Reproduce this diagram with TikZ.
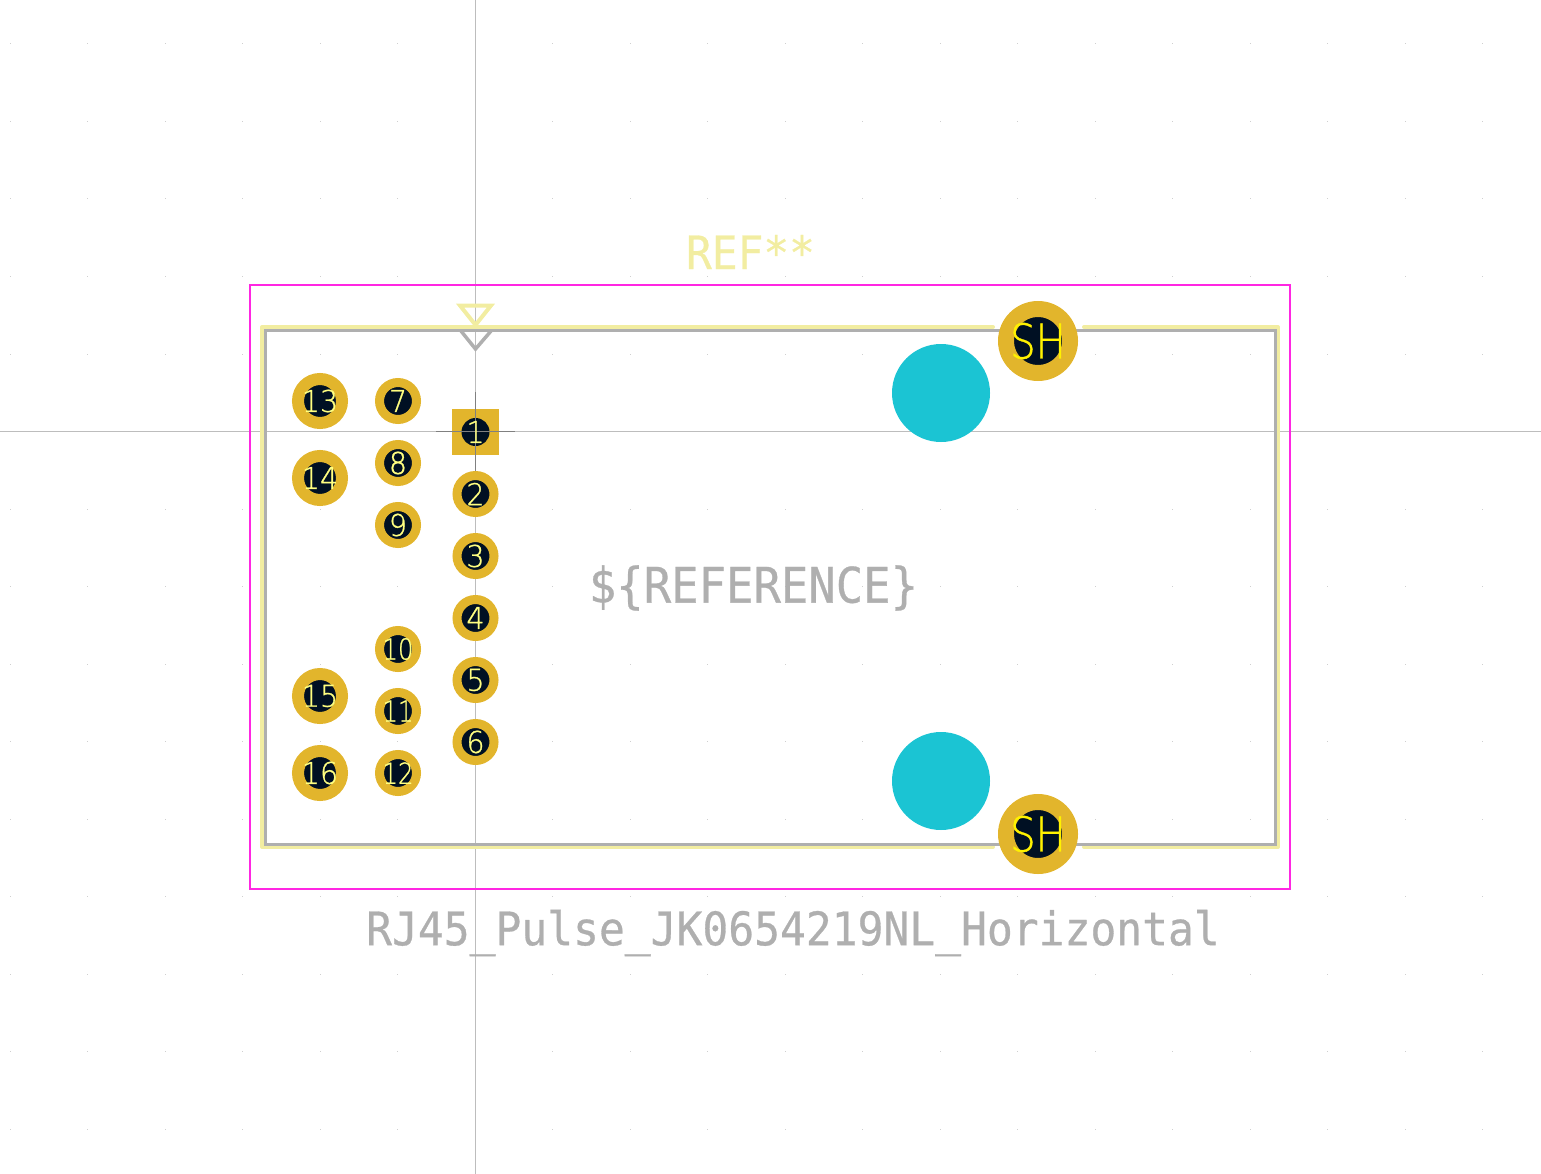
\documentclass[tikz,border=0pt]{standalone}
\usepackage{fontspec}
\newfontfamily\kifont[FakeStretch=0.93,FakeBold=0.6]{DejaVu Sans Mono}
\newfontfamily\pinfont[FakeStretch=0.95,FakeBold=0.8]{DejaVu Sans ExtraLight}
\newfontfamily\shfont[FakeStretch=0.84,FakeBold=0.8]{DejaVu Sans ExtraLight}
\newcommand{\pinlab}[1]{\makebox[0pt]{#1}}
\definecolor{padgold}{HTML}{E2B52C}
\definecolor{padhole}{HTML}{001023}
\definecolor{silkyel}{HTML}{F2EDA1}
\definecolor{fabgray}{HTML}{AFAFAF}
\definecolor{crtmag}{HTML}{FF26E2}
\definecolor{npthcyan}{HTML}{1BC4D3}
\definecolor{axisgray}{HTML}{BDBDBD}
\definecolor{griddot}{HTML}{CFCFCF}
\definecolor{numyel}{HTML}{FFFF80}
\tikzset{
  padsm/.style={circle,draw=padgold,fill=padhole,line width=9pt,minimum size=37pt,inner sep=0pt,
    text=numyel,font=\pinfont\fontsize{30}{30}\selectfont},
  padtw/.style={padsm,font=\shfont\fontsize{29}{29}\selectfont},
  padlg/.style={padsm,line width=12pt,minimum size=44pt},
  padsh/.style={padsm,line width=16pt,minimum size=64pt,text=yellow,font=\shfont\fontsize{48}{48}\selectfont},
  padsq/.style={rectangle,fill=padgold,minimum size=46.5pt,inner sep=0pt},
  padhl/.style={circle,fill=padhole,minimum size=28pt,inner sep=0pt},
  npth/.style={circle,fill=npthcyan,minimum size=98pt,inner sep=0pt},
  silktxt/.style={text=silkyel,inner sep=0pt,font=\kifont\fontsize{46}{46}\selectfont},
  fabtxt/.style={text=fabgray,inner sep=0pt,font=\kifont\fontsize{#1}{#1}\selectfont},
}
\begin{document}
\begin{tikzpicture}[x=1pt,y=-1pt,line cap=round]
    \useasboundingbox (0,0) rectangle (1541,1174);
    % Grid
    \foreach \i in {-6,...,13}
      \foreach \j in {-5,...,9}
        \fill[griddot] (475+77.5*\i-0.5,431.5+77.5*\j-0.5) rectangle ++(1,1);
    % Axes
    \draw[axisgray,line width=1.2pt,line cap=butt] (475.5,0) -- (475.5,1174);
    \draw[axisgray,line width=1.2pt,line cap=butt] (0,431.5) -- (1541,431.5);
    % Silk
    \draw[silkyel,line width=4pt,line join=round] (993,327) -- (262,327) -- (262,847) -- (993,847);
    \draw[silkyel,line width=4pt,line join=round] (1084,327) -- (1278,327) -- (1278,847) -- (1084,847);
    \draw[silkyel,line width=4pt,line join=miter] (460,305.5) -- (491,305.5) -- (475.5,325) -- cycle;
    % Fab outline and pin marker
    \draw[fabgray,line width=3pt,line join=miter] (265.3,330) rectangle (1275.5,844);
    \draw[fabgray,line width=3.5pt,line join=miter] (461,331) -- (475.5,349) -- (491,331);
    % Courtyard
    \draw[crtmag,line width=2pt,line cap=butt] (250,285) rectangle (1290,888.5);
    % Mounting holes
    \node[npth] (holetop) at (941,393) {};
    \node[npth] (holebot) at (941,781) {};
    % Pads
    \foreach \n/\px/\py in {13/320/401,14/320/478,15/320/696,16/320/773}
      \node[padlg] (p\n) at (\px,\py) {\pinlab{\n}};
    \foreach \n/\px/\py in {7/398/401,8/398/463,9/398/525,
                            2/475.5/494,3/475.5/556,4/475.5/618,5/475.5/680,6/475.5/742}
      \node[padsm] (p\n) at (\px,\py) {\pinlab{\n}};
    \foreach \n/\px/\py in {10/398/649,11/398/711,12/398/773}
      \node[padtw] (p\n) at (\px,\py) {\pinlab{\n}};
    \node[padsq] (p1) at (475.5,432) {};
    \node[padhl] (h1) at (p1) {};
    \draw[gray,line width=1pt,line cap=butt] (436,431.5) -- (515,431.5);
    \draw[gray,line width=1pt,line cap=butt] (475.5,392) -- (475.5,471);
    \node[text=numyel,inner sep=0pt,font=\pinfont\fontsize{30}{30}\selectfont] (n1) at (p1) {1};
    \node[padsh] (shtop) at (1038,341) {\pinlab{SH}};
    \node[padsh] (shbot) at (1038,834) {\pinlab{SH}};
    % Texts
    \node[silktxt] (reftop) at (750.5,252) {REF**};
    \node[fabtxt=49] (refval) at (753.5,588) {\$\{REFERENCE\}};
    \node[fabtxt=46.2] (fpname) at (793,933) {RJ45\_Pulse\_JK0654219NL\_Horizontal};
\end{tikzpicture}
\end{document}
